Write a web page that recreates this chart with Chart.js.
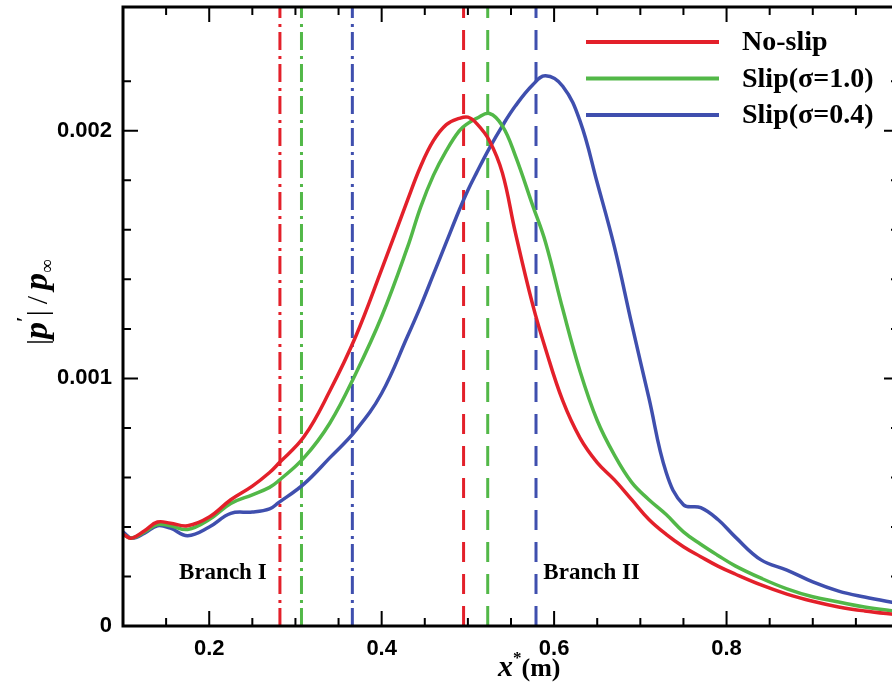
<!DOCTYPE html>
<html>
<head>
<meta charset="utf-8">
<script src="https://cdn.jsdelivr.net/npm/chart.js@4.4.0/dist/chart.umd.min.js"></script>
<style>
  html, body { margin: 0; padding: 0; background: #fff; overflow: hidden; }
  #wrap { width: 904px; height: 687px; }
</style>
</head>
<body>
<div id="wrap"><canvas id="chart" width="904" height="687"></canvas></div>
<script>
// streamwise position x* (m)
const xs = [0.10, 0.11, 0.125, 0.14, 0.155, 0.175, 0.20, 0.225, 0.25, 0.27, 0.28, 0.31, 0.34, 0.37,
  0.40, 0.43, 0.445, 0.46, 0.475, 0.49, 0.50, 0.51, 0.525, 0.54, 0.555, 0.575, 0.59, 0.61, 0.63,
  0.65, 0.67, 0.69, 0.71, 0.73, 0.75, 0.77, 0.79, 0.81, 0.84, 0.87, 0.90, 0.93, 0.96, 1.00];

// |p'| / p_inf
const noSlip = [0.00037, 0.000355, 0.000385, 0.00042, 0.000415, 0.000405, 0.00044, 0.00051, 0.000565,
  0.00062, 0.000655, 0.000765, 0.00095, 0.00117, 0.00144, 0.00172, 0.001855, 0.00196, 0.002025,
  0.00205, 0.002055, 0.00203, 0.00196, 0.00183, 0.00159, 0.0013, 0.00112, 0.00091, 0.00076,
  0.00066, 0.00059, 0.00051, 0.00043, 0.00037, 0.00032, 0.00028, 0.000242, 0.00021, 0.000166,
  0.000129, 0.0001, 0.000077, 0.000061, 0.000045];
const slipSigma10 = [0.00037, 0.000355, 0.00038, 0.00041, 0.000405, 0.00039, 0.00043, 0.000495, 0.00053,
  0.00056, 0.000585, 0.00068, 0.00082, 0.00102, 0.00125, 0.00153, 0.00169, 0.00182, 0.00192,
  0.002, 0.00203, 0.00205, 0.00207, 0.00202, 0.0019, 0.0017, 0.00155, 0.00128, 0.00103,
  0.00083, 0.00069, 0.00058, 0.00051, 0.00045, 0.00038, 0.00033, 0.000285, 0.000243, 0.000193,
  0.00015, 0.000118, 0.000097, 0.000077, 0.000058];
const slipSigma04 = [0.00038, 0.000355, 0.000375, 0.000405, 0.000395, 0.000365, 0.0004, 0.000455, 0.00046,
  0.000473, 0.000497, 0.000574, 0.00068, 0.00079, 0.00094, 0.00117, 0.00129, 0.00142, 0.00155,
  0.00168, 0.00176, 0.00183, 0.00193, 0.00202, 0.0021, 0.002185, 0.002222, 0.00218, 0.00204,
  0.00179, 0.00153, 0.00122, 0.00092, 0.00062, 0.00049, 0.000478, 0.00043, 0.00036, 0.000267,
  0.000226, 0.000178, 0.000141, 0.000117, 0.00009];

// neutral-curve positions: Branch I (dash-dot) and Branch II (dashed)
const branchI = [0.282, 0.307, 0.366];
const branchII = [0.495, 0.523, 0.579];

const seriesNames = ['No-slip', 'Slip(\u03c3=1.0)', 'Slip(\u03c3=0.4)'];
const seriesColors = ['#e3202a', '#52b848', '#3f4fae'];
const xTickLabels = ['0.2', '0.4', '0.6', '0.8'];
const yTickLabels = ['0', '0.001', '0.002'];

const X_MIN = 0.1, X_MAX = 1.0, Y_MIN = 0, Y_MAX = 0.0025;
const SERIF = '"Liberation Serif", "Times New Roman", serif';
const SANS = '"Liberation Sans", Arial, sans-serif';

function curve(values, i) {
  return {
    label: seriesNames[i],
    data: xs.map((x, k) => ({ x: x, y: values[k] })),
    borderColor: seriesColors[i],
    borderWidth: 3.5,
    pointRadius: 0,
    tension: 0.4,
    fill: false
  };
}

function marker(x, i, dash) {
  return {
    label: '',
    data: [{ x: x, y: Y_MIN }, { x: x, y: Y_MAX }],
    borderColor: seriesColors[i],
    borderWidth: 3,
    borderDash: dash,
    pointRadius: 0,
    fill: false
  };
}

const datasets = [
  curve(noSlip, 0), curve(slipSigma10, 1), curve(slipSigma04, 2),
  ...branchI.map((x, i) => marker(x, i, [18, 5, 3, 6])),
  ...branchII.map((x, i) => marker(x, i, [20, 12]))
];

function labelFor(list, v) {
  const l = list.find(s => Math.abs(Number(s) - v) < 1e-9);
  return l === undefined ? '' : l;
}

// box, inward ticks on all four sides
const frame = {
  id: 'frame',
  afterDatasetsDraw(chart) {
    const { ctx, chartArea: a, scales: { x, y } } = chart;
    ctx.save();
    ctx.strokeStyle = '#000';
    ctx.lineWidth = 2;
    ctx.beginPath();
    x.ticks.forEach(t => {
      if (Math.abs(t.value - X_MIN) < 1e-9 || Math.abs(t.value - X_MAX) < 1e-9) return;
      const px = x.getPixelForValue(t.value);
      const len = t.label ? 15 : 8;
      ctx.moveTo(px, a.bottom); ctx.lineTo(px, a.bottom - len);
      ctx.moveTo(px, a.top); ctx.lineTo(px, a.top + len);
    });
    y.ticks.forEach(t => {
      if (Math.abs(t.value - Y_MIN) < 1e-12 || Math.abs(t.value - Y_MAX) < 1e-12) return;
      const py = y.getPixelForValue(t.value);
      const len = t.label ? 15 : 8;
      ctx.moveTo(a.left, py); ctx.lineTo(a.left + len, py);
      ctx.moveTo(a.right, py); ctx.lineTo(a.right - len, py);
    });
    ctx.stroke();
    ctx.lineWidth = 3;
    ctx.strokeRect(a.left, a.top, a.right - a.left, a.bottom - a.top);
    ctx.restore();
  }
};

function drawPieces(ctx, pieces, x, y) {
  pieces.forEach(p => {
    ctx.font = p.font;
    ctx.fillText(p.text, x, y + (p.dy || 0));
    x += ctx.measureText(p.text).width + (p.gap || 0);
  });
}

const annotations = {
  id: 'annotations',
  afterDraw(chart) {
    const { ctx, scales: { x, y } } = chart;
    ctx.save();
    ctx.fillStyle = '#000';

    // legend
    datasets.slice(0, 3).forEach((d, i) => {
      const ly = 42 + i * 36.5;
      ctx.strokeStyle = d.borderColor;
      ctx.lineWidth = 4;
      ctx.beginPath();
      ctx.moveTo(586, ly); ctx.lineTo(719, ly);
      ctx.stroke();
      ctx.font = 'bold 28px ' + SERIF;
      ctx.textBaseline = 'middle';
      ctx.fillText(d.label, 742, ly + 1);
    });

    // branch labels
    ctx.textBaseline = 'middle';
    ctx.font = 'bold 23px ' + SERIF;
    ctx.fillText('Branch I', x.getPixelForValue(0.165), y.getPixelForValue(0.000215));
    ctx.fillText('Branch II', x.getPixelForValue(0.5875), y.getPixelForValue(0.000215));

    // x-axis title
    ctx.textBaseline = 'alphabetic';
    drawPieces(ctx, [
      { text: 'x', font: 'italic bold 30px ' + SERIF },
      { text: '*', font: 'bold 17px ' + SERIF, dy: -13 },
      { text: '(m)', font: 'bold 26px ' + SERIF }
    ], 498, 676);

    // y-axis title (rotated)
    ctx.translate(47, 345);
    ctx.rotate(-Math.PI / 2);
    drawPieces(ctx, [
      { text: '|', font: '30px ' + SERIF },
      { text: 'p', font: 'italic bold 34px ' + SERIF },
      { text: '\u2032', font: 'bold 20px ' + SERIF, dy: -16 },
      { text: '|', font: '30px ' + SERIF, gap: 6 },
      { text: '/', font: '30px ' + SERIF, gap: 6 },
      { text: 'p', font: 'italic bold 34px ' + SERIF },
      { text: '\u221e', font: '19px ' + SERIF, dy: 6 }
    ], 0, 0);
    ctx.restore();
  }
};

new Chart(document.getElementById('chart').getContext('2d'), {
  type: 'line',
  data: { datasets: datasets },
  options: {
    responsive: false,
    animation: false,
    layout: { padding: { left: 0, right: 5, top: 7, bottom: 0 } },
    plugins: {
      legend: { display: false },
      tooltip: { enabled: false }
    },
    scales: {
      x: {
        type: 'linear',
        min: X_MIN,
        max: X_MAX,
        afterFit: s => { s.height = 61; s.paddingLeft = 0; s.paddingRight = 0; },
        grid: { display: false, drawTicks: false },
        border: { display: false },
        ticks: {
          stepSize: 0.05,
          autoSkip: false,
          maxRotation: 0,
          padding: 10,
          color: '#000',
          font: { family: SANS, weight: 'bold', size: 22 },
          callback: v => labelFor(xTickLabels, v)
        }
      },
      y: {
        type: 'linear',
        min: Y_MIN,
        max: Y_MAX,
        afterFit: s => { s.width = 123; s.paddingTop = 0; s.paddingBottom = 0; },
        grid: { display: false, drawTicks: false },
        border: { display: false },
        ticks: {
          stepSize: 0.0002,
          autoSkip: false,
          padding: 11,
          color: '#000',
          font: { family: SANS, weight: 'bold', size: 22 },
          callback: v => labelFor(yTickLabels, v)
        }
      }
    }
  },
  plugins: [frame, annotations]
});
</script>
</body>
</html>
